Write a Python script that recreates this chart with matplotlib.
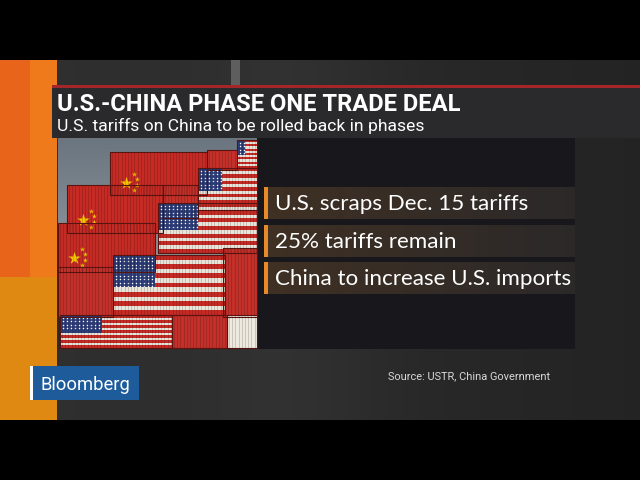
import matplotlib
matplotlib.use("Agg")
import matplotlib.pyplot as plt
import numpy as np
from matplotlib.patches import Rectangle

# --- text content ---
title = "U.S.-CHINA PHASE ONE TRADE DEAL"
subtitle = "U.S. tariffs on China to be rolled back in phases"
bullets = ["U.S. scraps Dec. 15 tariffs", "25% tariffs remain",
           "China to increase U.S. imports"]
bullet_widths = [287, 208, 293]
source = "Source: USTR, China Government"
logo = "Bloomberg"

# illustration: stacked shipping containers (kind, x, y, w, h)
containers = [
    ("us", 237, 140, 20, 28),
    ("red", 207, 150, 30, 20),
    ("cn", 110, 152, 97, 43),
    ("us", 198, 168, 59, 42),
    ("cn", 67, 185, 96, 48),
    ("red", 163, 185, 35, 33),
    ("cn", 58, 223, 97, 49),
    ("us", 158, 203, 99, 50),
    ("red", 58, 267, 55, 50),
    ("red", 223, 248, 34, 69),
    ("us", 113, 255, 112, 60),
    ("us", 60, 315, 112, 33),
    ("red", 172, 315, 55, 33),
    ("white", 227, 315, 30, 33),
]

RED = "#c62a24"
WHITE = "#e9e4da"
BLUE = "#2c3d7a"
ORANGE = "#e8892a"


def ribs(ax, x, y, w, h, color="#000000", alpha=0.22):
    for rx in np.arange(x + 2, x + w, 3.2):
        ax.plot([rx, rx], [y + 1, y + h - 1], color=color, lw=0.5, alpha=alpha, zorder=3)
    ax.add_patch(Rectangle((x, y), w, h, fill=False, ec="#5a1410", lw=0.8, zorder=3))


def us_box(ax, x, y, w, h):
    n = 13
    sh = h / n
    for i in range(n):
        ax.add_patch(Rectangle((x, y + i * sh), w, sh, color=RED if i % 2 == 0 else WHITE,
                               lw=0, zorder=2))
    cw = min(w * 0.4, 42)
    ch = sh * 7
    ax.add_patch(Rectangle((x, y), cw, ch, color=BLUE, lw=0, zorder=2))
    sx, sy = np.meshgrid(np.arange(x + 2.5, x + cw - 1, 4.0), np.arange(y + 2.5, y + ch - 1, 3.6))
    ax.scatter(sx.ravel(), sy.ravel(), s=1.2, c="white", lw=0, zorder=2.5)
    ribs(ax, x, y, w, h)


def cn_box(ax, x, y, w, h):
    ax.add_patch(Rectangle((x, y), w, h, color=RED, lw=0, zorder=2))
    sx, sy = x + 16, y + h * 0.72
    ax.scatter([sx], [sy], marker="*", s=90, c="#f4c400", lw=0, zorder=2.6)
    for dx, dy in [(8, -9), (11, -4), (11, 2), (8, 7)]:
        ax.scatter([sx + dx], [sy + dy], marker="*", s=14, c="#f4c400", lw=0, zorder=2.6)
    ribs(ax, x, y, w, h)


def plain_box(ax, x, y, w, h, color):
    ax.add_patch(Rectangle((x, y), w, h, color=color, lw=0, zorder=2))
    ribs(ax, x, y, w, h)


def fit_size(ax, s, width, size=12, **kw):
    t = ax.text(0, 0, s, fontsize=size, **kw)
    r = ax.figure.canvas.get_renderer()
    cur = t.get_window_extent(renderer=r).width
    t.remove()
    return size * width / cur


def fit_text(ax, x, y, s, width, size=12, **kw):
    fs = fit_size(ax, s, width, size, family=kw.get("family"),
                  fontweight=kw.get("fontweight", "normal"))
    return ax.text(x, y, s, fontsize=fs, **kw)


fig = plt.figure(figsize=(6.4, 4.8), dpi=100)
ax = fig.add_axes([0, 0, 1, 1])
ax.set_xlim(0, 640)
ax.set_ylim(480, 0)
ax.axis("off")
fig.patch.set_facecolor("black")

# dark studio background with soft vertical bands
cols = np.linspace(0, 1, 640)
shade = 0.19 - 0.05 * cols + 0.025 * np.exp(-((cols - 0.45) / 0.15) ** 2)
bg = np.tile(shade, (360, 1))
ax.imshow(np.dstack([bg, bg, bg * 1.02]).clip(0, 1), extent=[0, 640, 420, 60],
          aspect="auto", zorder=0)
ax.add_patch(Rectangle((231, 60), 9, 26, color="#5e5e5e", lw=0, zorder=0.5))

# orange strip on the left
ax.add_patch(Rectangle((0, 60), 30, 217, color="#e8641a", lw=0, zorder=1))
ax.add_patch(Rectangle((30, 60), 27, 217, color="#ef7a1c", lw=0, zorder=1))
ax.add_patch(Rectangle((0, 277), 57, 143, color="#df8912", lw=0, zorder=1.1))

# letterbox bars
ax.add_patch(Rectangle((0, 0), 640, 60, color="black", lw=0, zorder=5))
ax.add_patch(Rectangle((0, 420), 640, 60, color="black", lw=0, zorder=5))

# title bar
ax.add_patch(Rectangle((52, 88), 588, 50, color="#2a2a2c", lw=0, zorder=1.5))
ax.add_patch(Rectangle((52, 85), 588, 3.2, color="#a3262a", lw=0, zorder=1.6))
fit_text(ax, 57, 111, title, 403, size=16, color="white", fontweight="bold",
         family="Roboto", va="baseline", zorder=4)
fit_text(ax, 57, 131, subtitle, 366, size=12, color="white",
         family="Roboto", va="baseline", zorder=4)

# picture of containers
ax.add_patch(Rectangle((58, 138), 199, 211, color="#2a2a2a", lw=0, zorder=1.7))
sky = np.linspace(0.0, 1.0, 100)[:, None] * np.ones((1, 10))
sky_rgb = np.dstack([0.42 + 0.18 * sky, 0.46 + 0.17 * sky, 0.50 + 0.15 * sky])
ax.imshow(sky_rgb, extent=[58, 257, 300, 138], aspect="auto", zorder=1.8)
for kind, x, y, w, h in containers:
    if kind == "us":
        us_box(ax, x, y, w, h)
    elif kind == "cn":
        cn_box(ax, x, y, w, h)
    elif kind == "red":
        plain_box(ax, x, y, w, h, "#c3302a")
    else:
        plain_box(ax, x, y, w, h, "#eeeadf")

# bullet panel
ax.add_patch(Rectangle((257, 138), 318, 211, color="#18171c", lw=0, zorder=1.7))
row_tops = [187, 225, 262]
grad = np.linspace(0, 1, 200)[None, :]
row_rgb = np.dstack([0.25 - 0.08 * grad, 0.19 - 0.03 * grad, 0.14 + 0.02 * grad])

# pick the installed sans whose proportions best match the on-air font
best = None
for fam in ["Roboto", "Lato", "Open Sans", "Inter", "Liberation Sans", "Noto Sans"]:
    sz = [fit_size(ax, b, w_, 16, family=fam) for b, w_ in zip(bullets, bullet_widths)]
    spread = max(sz) / min(sz)
    if best is None or spread < best[0]:
        best = (spread, fam, sz)
_, bfam, sizes = best
tsize = min(float(np.mean(sizes)), sizes[2] * 1.01)
for top, text in zip(row_tops, bullets):
    ax.imshow(row_rgb, extent=[264, 575, top + 32, top], aspect="auto", zorder=2)
    ax.add_patch(Rectangle((264, top), 4, 32, color=ORANGE, lw=0, zorder=2.2))
    ax.text(275, top + 23, text, fontsize=tsize, color="white",
            family=bfam, va="baseline", zorder=4)

# logo and source
ax.add_patch(Rectangle((33, 366), 106, 34, color="#1d5b9b", lw=0, zorder=2))
ax.add_patch(Rectangle((30, 366), 3, 34, color="white", lw=0, zorder=2))
fit_text(ax, 41, 390, logo, 89, size=13, color="white", family="Roboto",
         va="baseline", zorder=4)
fit_text(ax, 388, 379, source, 162, size=9, color="#d8d8d8", family="Roboto",
         va="baseline", zorder=4)

fig.savefig("out.png", dpi=100, facecolor="black")
